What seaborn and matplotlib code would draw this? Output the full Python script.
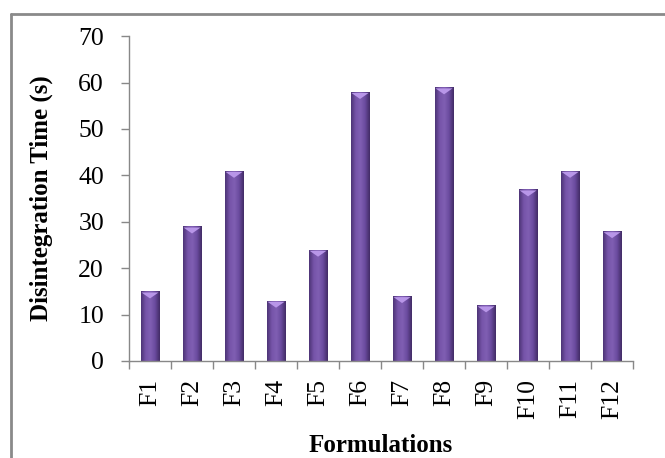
import numpy as np
import matplotlib.pyplot as plt
import seaborn as sns
from matplotlib.colors import LinearSegmentedColormap
from matplotlib.lines import Line2D
from matplotlib.path import Path

# Data
formulations = ["F1", "F2", "F3", "F4", "F5", "F6", "F7", "F8", "F9", "F10", "F11", "F12"]
disintegration_time = [15, 29, 41, 13, 24, 58, 14, 59, 12, 37, 41, 28]

sns.set_theme(style="white")
plt.rcParams["font.family"] = ["Liberation Serif", "DejaVu Serif"]

fig = plt.figure(figsize=(6.65, 4.58), dpi=100)
ax = fig.add_axes([0.194, 0.212, 0.758, 0.709])

sns.barplot(x=formulations, y=disintegration_time, color="#6b4d9a",
            width=0.43, ax=ax, saturation=1, edgecolor="#3f2a60", linewidth=0.6)

# cylinder-like shading across each bar
cmap = LinearSegmentedColormap.from_list(
    "cyl", ["#4d3476", "#7654a9", "#805fb3", "#6a4b9e", "#422c66"])
grad = np.linspace(0, 1, 64).reshape(1, -1)
for patch in ax.patches:
    x0, y0 = patch.get_x(), patch.get_y()
    w, h = patch.get_width(), patch.get_height()
    im = ax.imshow(grad, cmap=cmap, aspect="auto", extent=[x0, x0 + w, y0, y0 + h],
                   zorder=patch.get_zorder() + 0.1)
    im.set_clip_path(patch)

# light flat triangle bevel at the top of each bar
bevel = Path([(-1, 0), (1, 0), (0, -0.7), (-1, 0)],
             [Path.MOVETO, Path.LINETO, Path.LINETO, Path.CLOSEPOLY])
ax.scatter(range(len(formulations)), [v - 0.25 for v in disintegration_time],
           marker=bevel, s=150, color="#b896e8", edgecolors="none", zorder=5)

ax.set_xlim(-0.5, len(formulations) - 0.5)
ax.set_ylim(0, 70)
ax.set_yticks(range(0, 71, 10))
ax.set_xticks(range(len(formulations)))
ax.set_xticklabels(formulations, rotation=90)
ax.set_xticks(np.arange(-0.5, len(formulations), 1), minor=True)

spine_col = "#888888"
for s in ["top", "right"]:
    ax.spines[s].set_visible(False)
for s in ["left", "bottom"]:
    ax.spines[s].set_color(spine_col)
    ax.spines[s].set_linewidth(1.0)

ax.tick_params(axis="y", which="major", direction="out", length=6, width=1,
               color=spine_col, labelsize=18.5, pad=12, left=True, labelcolor="black")
ax.tick_params(axis="x", which="major", length=0, labelsize=18.5, pad=13, labelcolor="black")
ax.tick_params(axis="x", which="minor", direction="out", length=6, width=1,
               color=spine_col, bottom=True)

ax.set_xlabel("Formulations", fontsize=18, fontweight="bold", labelpad=11, color="black")
ax.set_ylabel("Disintegration Time (s)", fontsize=18, fontweight="bold", labelpad=18,
              color="black")

# outer chart frame (top and left edges visible)
fig.add_artist(Line2D([11 / 665, 1], [1 - 14 / 458, 1 - 14 / 458],
                      transform=fig.transFigure, color="#8a8a8a", lw=2))
fig.add_artist(Line2D([11 / 665, 11 / 665], [0, 1 - 14 / 458],
                      transform=fig.transFigure, color="#8a8a8a", lw=2))

fig.savefig("out.png", dpi=100)
